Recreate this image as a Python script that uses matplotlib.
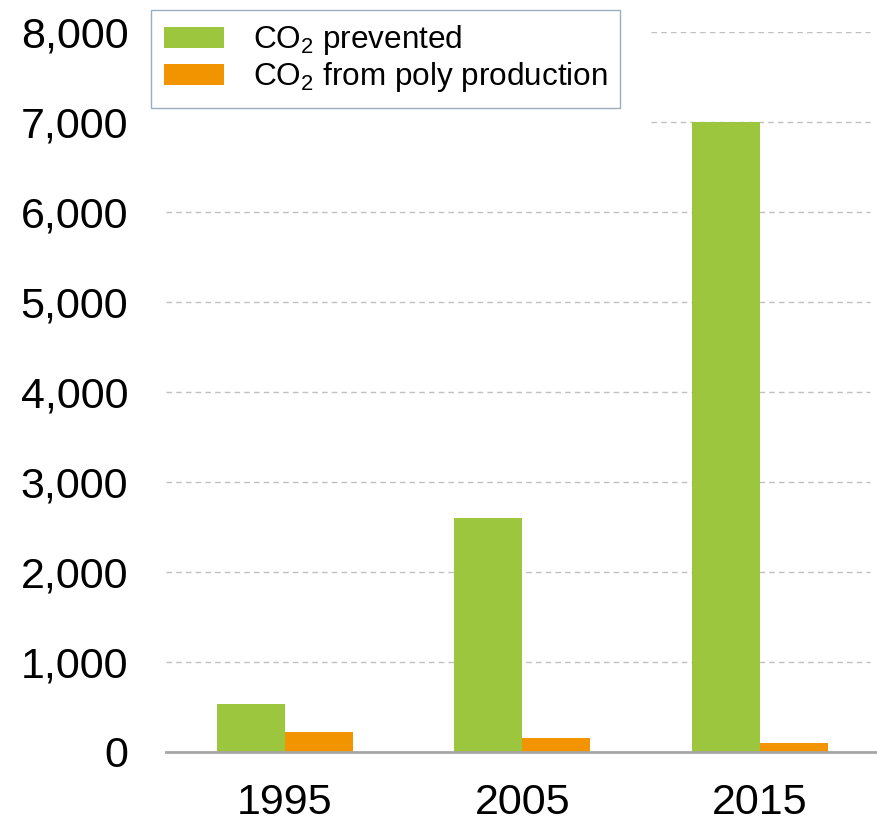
import matplotlib.pyplot as plt
import numpy as np

plt.rcParams['font.family'] = ['Liberation Sans', 'DejaVu Sans']
plt.rcParams['mathtext.fontset'] = 'custom'
plt.rcParams['mathtext.rm'] = 'Liberation Sans'
plt.rcParams['mathtext.it'] = 'Liberation Sans:italic'

years = ['1995', '2005', '2015']
co2_prevented = [530, 2600, 7000]
co2_poly = [220, 150, 100]
yticks = [0, 1000, 2000, 3000, 4000, 5000, 6000, 7000, 8000]

green = '#9DC63F'
orange = '#F29400'

fig = plt.figure(figsize=(8.77, 8.22), dpi=100)
ax = fig.add_axes([0.189, 0.0852, 0.813, 0.8759])

x = np.arange(len(years))
w = 0.286
ax.bar(x - w/2, co2_prevented, w, color=green, label='CO$_2$ prevented', zorder=3)
ax.bar(x + w/2, co2_poly, w, color=orange, label='CO$_2$ from poly production', zorder=3)

ax.set_xlim(-0.5, 2.5)
ax.set_ylim(0, 8000)
ax.set_xticks(x)
ax.set_xticklabels(years)
ax.set_yticks(yticks)
ax.set_yticklabels(['{:,}'.format(v) for v in yticks])
ax.tick_params(axis='both', length=0, labelsize=31)
ax.tick_params(axis='y', pad=27)
ax.tick_params(axis='x', pad=22)

# dashed gridlines; the top two start right of the legend box
for v in yticks[1:]:
    start = 0.68 if v >= 7000 else 0.0
    ax.axhline(v, xmin=start, xmax=0.988, color='#C0C0C0', lw=1,
               ls=(0, (4, 3)), zorder=1)

for s in ['top', 'right', 'left']:
    ax.spines[s].set_visible(False)
ax.spines['bottom'].set_color('#A6A6A6')
ax.spines['bottom'].set_linewidth(2)
ax.spines['bottom'].set_zorder(4)

leg = ax.legend(loc='upper left', bbox_to_anchor=(151/877, 1 - 10/822),
                bbox_transform=fig.transFigure, borderaxespad=0,
                fontsize=22.7, frameon=True, fancybox=False,
                handlelength=1.9, handleheight=0.65, handletextpad=0.9,
                borderpad=0.42, labelspacing=0.1)
leg.get_frame().set_edgecolor('#8497B0')
leg.get_frame().set_linewidth(1)

fig.savefig('out.png', dpi=100)
